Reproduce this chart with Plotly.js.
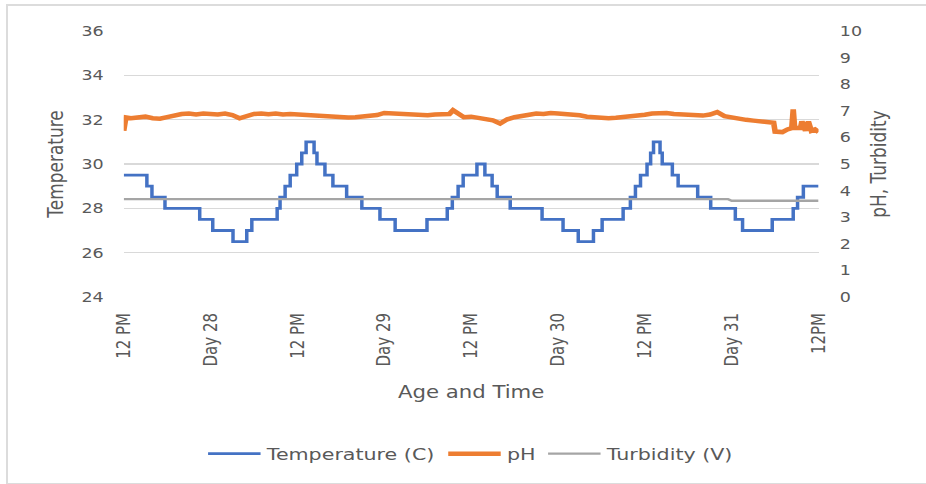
<!DOCTYPE html>
<html>
<head>
<meta charset="utf-8">
<script src="https://cdn.plot.ly/plotly-3.0.1.min.js"></script>
<style>
  html, body { margin: 0; padding: 0; background: #ffffff; }
  #outer { position: relative; width: 926px; height: 484px; overflow: hidden; background: #ffffff; }
  #frame { position: absolute; left: 6px; top: 4px; width: 940px; height: 477px; border: 2px solid #dcdcdc; pointer-events: none; }
  #chart { position: absolute; left: 0; top: 0; width: 741px; height: 484px; transform: scaleX(1.2497); transform-origin: 0 0; }
</style>
</head>
<body>
<div id="outer">
  <div id="chart"></div>
  <div id="frame"></div>
</div>
<script>
// Hours since Day 27, 12 PM
var tickHours = [0, 12, 24, 36, 48, 60, 72, 84, 96];
var tickLabels = ["12 PM", "Day 28", "12 PM", "Day 29", "12 PM", "Day 30", "12 PM", "Day 31", "12PM"];

var tempHours = [0, 3.2, 3.9, 5.7, 10.5, 12.3, 15.1, 17.0, 17.7, 21.2,
                 21.6, 22.3, 23.0, 23.9, 24.6, 25.2, 26.3, 26.7, 27.8, 28.9,
                 30.8, 32.9, 35.4, 37.5, 41.9, 44.7, 45.4, 46.2, 46.9, 48.8,
                 49.9, 50.9, 51.6, 53.4, 57.8, 60.7, 62.8, 64.9, 66.1, 69.0,
                 70.0, 70.7, 71.4, 72.3, 72.8, 73.2, 74.1, 74.4, 75.8, 76.6,
                 79.3, 81.1, 84.5, 85.5, 89.6, 92.5, 93.1, 93.9, 96];
var tempValues = [29.5, 29.0, 28.5, 28.0, 27.5, 27.0, 26.5, 27.0, 27.5, 28.0,
                  28.5, 29.0, 29.5, 30.0, 30.5, 31.0, 30.5, 30.0, 29.5, 29.0,
                  28.5, 28.0, 27.5, 27.0, 27.5, 28.0, 28.5, 29.0, 29.5, 30.0,
                  29.5, 29.0, 28.5, 28.0, 27.5, 27.0, 26.5, 27.0, 27.5, 28.0,
                  28.5, 29.0, 29.5, 30.0, 30.5, 31.0, 30.5, 30.0, 29.5, 29.0,
                  28.5, 28.0, 27.5, 27.0, 27.5, 28.0, 28.5, 29.0, 29.0];

var phHours = [0, 0.3, 1, 2, 3, 4, 5, 6, 7, 8, 9, 10, 11, 12, 13, 14, 15, 16, 17, 18,
               19, 20, 21, 22, 23, 24, 25, 26, 27, 28, 29, 30, 31, 32, 33, 34, 35, 36, 37, 38,
               39, 40, 41, 42, 43, 44, 45, 45.5, 46.5, 47, 48, 49, 50, 51, 52, 52.5, 53, 54, 55, 56,
               57, 58, 59, 60, 61, 62, 63, 64, 65, 66, 67, 68, 69, 70, 71, 72, 73, 74, 75, 76,
               77, 78, 79, 80, 81, 82, 83, 84, 85, 86, 87, 88, 89, 89.8, 90, 91, 91.7, 92.3, 92.5, 92.7,
               93.5, 93.7, 94.2, 94.6, 95.0, 95.5, 96];
var phValues = [6.25, 6.75, 6.72, 6.76, 6.78, 6.72, 6.70, 6.76, 6.84, 6.88, 6.90, 6.86, 6.90, 6.88, 6.86, 6.90, 6.84, 6.72, 6.80, 6.88,
                6.90, 6.87, 6.90, 6.86, 6.88, 6.86, 6.85, 6.82, 6.80, 6.78, 6.76, 6.73, 6.75, 6.76, 6.78, 6.79, 6.84, 6.92, 6.90, 6.88,
                6.87, 6.85, 6.86, 6.83, 6.86, 6.85, 6.88, 7.02, 6.86, 6.76, 6.78, 6.72, 6.70, 6.64, 6.52, 6.62, 6.68, 6.76, 6.82, 6.88,
                6.90, 6.88, 6.92, 6.90, 6.88, 6.88, 6.83, 6.78, 6.75, 6.72, 6.72, 6.74, 6.76, 6.78, 6.82, 6.85, 6.90, 6.91, 6.92, 6.88,
                6.86, 6.85, 6.82, 6.82, 6.86, 6.95, 6.80, 6.74, 6.72, 6.66, 6.63, 6.60, 6.55, 6.55, 6.22, 6.20, 6.30, 6.35, 7.05, 6.35,
                6.35, 6.60, 6.25, 6.60, 6.25, 6.30, 6.20];

var turbHours = [0, 83.5, 84, 96];
var turbValues = [3.68, 3.68, 3.62, 3.62];

var textColor = "#595959";
var fontFam = "DejaVu Sans, sans-serif";

var traces = [
  { x: tempHours, y: tempValues, name: "Temperature (C)", type: "scatter", mode: "lines",
    line: { color: "#4472c4", width: 2.8, shape: "hv" }, yaxis: "y" },
  { x: phHours, y: phValues, name: "pH", type: "scatter", mode: "lines",
    line: { color: "#ed7d31", width: 4.5 }, yaxis: "y2" },
  { x: turbHours, y: turbValues, name: "Turbidity (V)", type: "scatter", mode: "lines",
    line: { color: "#a5a5a5", width: 2.4 }, yaxis: "y2" }
];

var layout = {
  width: 741, height: 484,
  margin: { l: 99, r: 86, t: 31, b: 185 },
  paper_bgcolor: "#ffffff", plot_bgcolor: "#ffffff",
  font: { family: fontFam, color: textColor, size: 14 },
  showlegend: true,
  legend: { orientation: "h", x: 0.5, xanchor: "center", y: -0.59, yanchor: "middle",
            itemwidth: 42, font: { size: 16.5, color: textColor }, traceorder: "normal" },
  xaxis: {
    range: [0, 96], tickmode: "array", tickvals: tickHours, ticktext: tickLabels,
    tickangle: -90, showgrid: false, zeroline: false, showline: false, ticks: "",
    ticklabelstandoff: 12, tickfont: { size: 15, color: textColor },
    title: { text: "Age and Time", font: { size: 17, color: textColor }, standoff: 20 },
    automargin: false
  },
  yaxis: {
    range: [24, 36], dtick: 2, tick0: 24, showgrid: true, gridcolor: "#d9d9d9", gridwidth: 1.2,
    zeroline: false, showline: false, ticks: "", ticklabelstandoff: 15,
    tickfont: { size: 14, color: textColor },
    title: { text: "Temperature", font: { size: 17, color: textColor }, standoff: 9 },
    automargin: false
  },
  yaxis2: {
    range: [0, 10], dtick: 1, tick0: 0, overlaying: "y", side: "right", showgrid: false,
    zeroline: false, showline: false, ticks: "", ticklabelstandoff: 16,
    tickfont: { size: 14, color: textColor },
    title: { text: "pH, Turbidity", font: { size: 17, color: textColor }, standoff: 8 },
    automargin: false
  }
};

Plotly.newPlot("chart", traces, layout, { displayModeBar: false, staticPlot: true });
</script>
</body>
</html>
